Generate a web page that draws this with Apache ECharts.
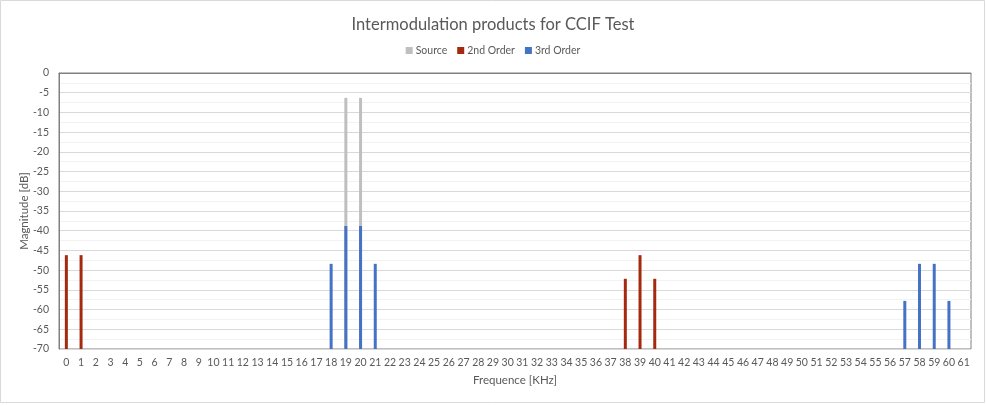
<!DOCTYPE html>
<html>
<head>
<meta charset="utf-8">
<script src="https://cdn.jsdelivr.net/npm/echarts@6/dist/echarts.min.js"></script>
<style>html,body{margin:0;padding:0;background:#fff}#c{width:986px;height:406px}</style>
</head>
<body>
<div id="c"></div>
<script>
const categories = ['0','1','2','3','4','5','6','7','8','9','10','11','12','13','14','15','16','17','18','19','20','21','22','23','24','25','26','27','28','29','30','31','32','33','34','35','36','37','38','39','40','41','42','43','44','45','46','47','48','49','50','51','52','53','54','55','56','57','58','59','60','61'];
const sourceData = [['19', -6.3], ['20', -6.3]];
const secondOrderData = [['0', -46.2], ['1', -46.2], ['38', -52.2], ['39', -46.2], ['40', -52.2]];
const thirdOrderData = [['18', -48.4], ['19', -38.8], ['20', -38.8], ['21', -48.4], ['57', -57.8], ['58', -48.4], ['59', -48.4], ['60', -57.8]];
const yMin = -70, yMax = 0, yStep = 5;

const chart = echarts.init(document.getElementById('c'), null, {renderer: 'canvas'});
const font = 'Lato, "Open Sans", sans-serif';
const txt = '#595959';
chart.setOption({
  animation: false,
  textStyle: {fontFamily: font},
  title: {text: 'Intermodulation products for CCIF Test', left: 'center', top: 11,
    textStyle: {fontSize: 16.5, fontWeight: 'normal', color: txt, fontFamily: font}},
  legend: {top: 40, left: 'center', itemWidth: 7, itemHeight: 7, itemGap: 10, icon: 'rect',
    textStyle: {fontSize: 10.5, color: txt, fontFamily: font, padding: [0,0,0,-2]},
    data: ['Source', '2nd Order', '3rd Order']},
  grid: {left: 59, right: 15, top: 73, bottom: 57, show: true, borderColor: '#808080', borderWidth: 1, containLabel: false},
  xAxis: {type: 'category', data: categories, boundaryGap: true,
    name: 'Frequence [KHz]', nameLocation: 'middle', nameGap: 25, nameMoveOverlap: false,
    nameTextStyle: {fontSize: 11.5, color: txt, fontFamily: font},
    axisLine: {lineStyle: {color: '#808080'}}, axisTick: {show: false},
    axisLabel: {interval: 0, fontSize: 10.5, color: txt, margin: 8, fontFamily: font},
    splitLine: {show: false}},
  yAxis: {type: 'value', min: yMin, max: yMax, interval: yStep, startValue: yMin,
    name: 'Magnitude [dB]', nameLocation: 'middle', nameGap: 29, nameMoveOverlap: false,
    nameTextStyle: {fontSize: 11.5, color: txt, fontFamily: font},
    axisLine: {show: true, lineStyle: {color: '#808080'}}, axisTick: {show: false},
    axisLabel: {fontSize: 10.5, color: txt, margin: 10, fontFamily: font},
    splitLine: {lineStyle: {color: '#D9D9D9'}},
    minorTick: {show: false, splitNumber: 2},
    minorSplitLine: {show: true, lineStyle: {color: '#F2F2F2'}}},
  series: [
    {name: 'Source', type: 'bar', data: sourceData, barWidth: 3, barGap: '-100%', itemStyle: {color: '#BFBFBF'}},
    {name: '2nd Order', type: 'bar', data: secondOrderData, barWidth: 3, barGap: '-100%', itemStyle: {color: '#A5290F'}},
    {name: '3rd Order', type: 'bar', data: thirdOrderData, barWidth: 3, barGap: '-100%', itemStyle: {color: '#4472C4'}}
  ],
  graphic: [{type: 'rect', shape: {x: 0.5, y: 0.5, width: 984, height: 402}, style: {fill: null, stroke: '#D9D9D9', lineWidth: 1}, silent: true}]
});
</script>
</body>
</html>
